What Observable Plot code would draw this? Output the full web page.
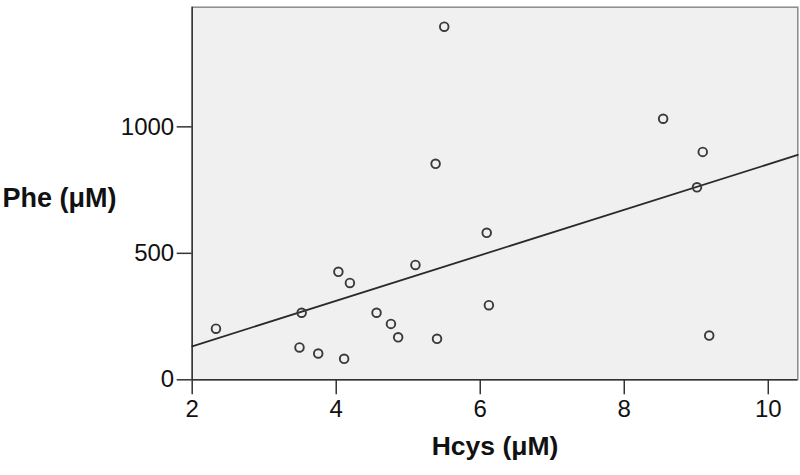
<!DOCTYPE html>
<html>
<head>
<meta charset="utf-8">
<script src="https://cdn.jsdelivr.net/npm/d3@7"></script>
<script src="https://cdn.jsdelivr.net/npm/@observablehq/plot@0.6"></script>
<style>
  html, body { margin: 0; padding: 0; background: #fff; }
  #chart svg { display: block; }
</style>
</head>
<body>
<div id="chart"></div>
<script>
// Hcys (µM) and Phe (µM) values
const hcys = [2.33, 3.52, 3.49, 3.75, 4.03, 4.19, 4.11, 4.56, 4.76, 4.86, 5.10, 5.40, 6.09, 6.12, 9.18, 5.50, 5.38, 8.54, 9.09, 9.01];
const phe  = [ 202,  265,  128,  104,  427,  383,   83,  265,  221,  168,  454,  162,  581,  295,  175, 1396,  854, 1032,  901,  761];
const xTicks = [2, 4, 6, 8, 10];
const yTicks = [0, 500, 1000];
const xTitle = "Hcys (μM)";
const yTitle = "Phe (μM)";
const xDomain = [2, 10.41];
const yDomain = [0, 1473];

const points = hcys.map((h, i) => ({hcys: h, phe: phe[i]}));

// least squares fit from the data
const mx = d3.mean(hcys), my = d3.mean(phe);
const sxy = d3.sum(hcys, (h, i) => (h - mx) * (phe[i] - my));
const sxx = d3.sum(hcys, h => (h - mx) ** 2);
const slope = sxy / sxx;
const intercept = my - slope * mx;
const fit = xDomain.map(x => ({hcys: x, phe: intercept + slope * x}));

const chart = Plot.plot({
  width: 800,
  height: 475,
  marginLeft: 191.7,
  marginRight: 2.7,
  marginTop: 6.7,
  marginBottom: 95.7,
  x: {domain: xDomain},
  y: {domain: yDomain},
  style: {fontFamily: "'Liberation Sans', Arial, sans-serif", fontSize: "24px", color: "#111", background: "#fff"},
  marks: [
    Plot.frame({fill: "#f0f0f0", stroke: "#8a8a8a", strokeWidth: 1.5}),
    Plot.ruleX([xDomain[0]], {stroke: "#333", strokeWidth: 1.5}),
    Plot.ruleY([yDomain[0]], {stroke: "#333", strokeWidth: 1.5}),
    Plot.axisX({ticks: xTicks, tickFormat: d3.format("d"), tickSize: 15, tickPadding: 5, label: null, stroke: "#333", strokeWidth: 1.5, fill: "#111", fontSize: 24}),
    Plot.axisY({ticks: yTicks, tickFormat: d3.format("d"), tickSize: 15, tickPadding: 3, label: null, stroke: "#333", strokeWidth: 1.5, fill: "#111", fontSize: 24}),
    Plot.line(fit, {x: "hcys", y: "phe", stroke: "#2a2a2a", strokeWidth: 1.8}),
    Plot.dot(points, {x: "hcys", y: "phe", r: 4.3, stroke: "#3a3a3a", strokeWidth: 1.9, fill: "none"}),
    Plot.text([xTitle], {frameAnchor: "bottom", dy: 75.5, text: d => d, fontSize: 26.5, fontWeight: "bold", fill: "#111", textAnchor: "middle"}),
    Plot.text([yTitle], {frameAnchor: "left", dx: -189.7, dy: 5, text: d => d, fontSize: 27, fontWeight: "bold", fill: "#111", textAnchor: "start"})
  ]
});
document.getElementById("chart").appendChild(chart);
</script>
</body>
</html>
